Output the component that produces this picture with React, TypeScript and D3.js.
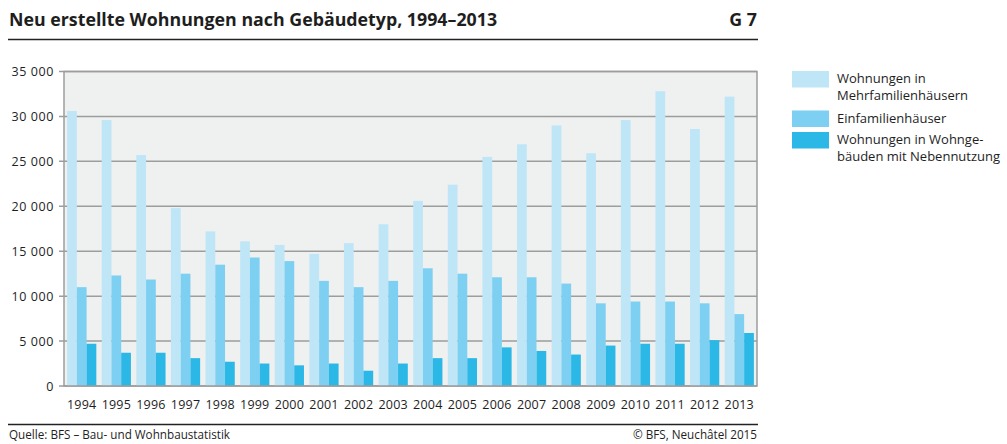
import React from "react";
import * as d3 from "d3";

const years = ["1994","1995","1996","1997","1998","1999","2000","2001","2002","2003","2004","2005","2006","2007","2008","2009","2010","2011","2012","2013"];
const mehrfamilien = [30600,29600,25700,19800,17200,16100,15700,14700,15900,18000,20600,22400,25500,26900,29000,25900,29600,32800,28600,32200];
const einfamilien = [11000,12300,11850,12500,13500,14300,13900,11700,11000,11700,13100,12500,12100,12100,11400,9200,9400,9400,9200,8000];
const nebennutzung = [4700,3700,3700,3100,2700,2500,2300,2500,1700,2500,3100,3100,4300,3900,3500,4500,4700,4700,5100,5900];
const seriesNames = ["Wohnungen in Mehrfamilienhäusern","Einfamilienhäuser","Wohnungen in Wohngebäuden mit Nebennutzung"];
const yTicks = [0,5000,10000,15000,20000,25000,30000,35000];
const colors = ["#bfe6f7","#7dd0f1","#2bb8e6"];

const W = 1007, H = 444;
const plot = { left: 64, right: 757, top: 71.5, bottom: 386 };
const FONT = "'Open Sans', Lato, sans-serif";
const TEXT = "#1e1e1e";

export default function App() {
  const x = d3.scaleBand<string>().domain(years).range([plot.left, plot.right]).paddingInner(0.156).paddingOuter(0.09);
  const series = [mehrfamilien, einfamilien, nebennutzung];
  const xi = d3.scaleBand<number>().domain([0,1,2]).range([0, x.bandwidth()]);
  const y = d3.scaleLinear().domain([0, 35000]).range([plot.bottom, plot.top]);
  const fmt = d3.formatLocale({ decimal: ",", thousands: " ", grouping: [3], currency: ["", ""] }).format(",d");

  const legend = [
    { lines: ["Wohnungen in", "Mehrfamilienhäusern"], y0: 71, title: seriesNames[0] },
    { lines: ["Einfamilienhäuser"], y0: 110.5, title: seriesNames[1] },
    { lines: ["Wohnungen in Wohnge-", "bäuden mit Nebennutzung"], y0: 132, title: seriesNames[2] },
  ];

  return (
    <svg width={W} height={H} style={{ position: "absolute", left: 0, top: 0, background: "#fff" }} fontFamily={FONT}>
      <text x={9} y={26} fontSize={17.8} fontWeight={700} fill={TEXT}>Neu erstellte Wohnungen nach Gebäudetyp, 1994–2013</text>
      <text x={757} y={26} fontSize={17.8} fontWeight={700} fill={TEXT} textAnchor="end">G 7</text>
      <line x1={8} x2={758} y1={39.5} y2={39.5} stroke="#222" strokeWidth={1.5} />

      <rect x={plot.left} y={plot.top} width={plot.right - plot.left} height={plot.bottom - plot.top} fill="#eff0f0" />
      {yTicks.map(t => (
        <g key={t}>
          <line x1={plot.left - 5} x2={plot.right} y1={y(t)} y2={y(t)} stroke="#9d9d9d" strokeWidth={1.5} />
          <text x={54} y={y(t) + 4.5} fontSize={12.5} textAnchor="end" fill={TEXT} letterSpacing={0.6}>{fmt(t)}</text>
        </g>
      ))}
      {years.map((yr, i) => (
        <g key={yr}>
          {series.map((s, k) => (
            <rect key={k} x={(x(yr) as number) + (xi(k) as number)} y={y(s[i])} width={xi.bandwidth()} height={y(0) - y(s[i])} fill={colors[k]} />
          ))}
          <text x={(x(yr) as number) + x.bandwidth() / 2} y={409} fontSize={12.5} textAnchor="middle" fill={TEXT} letterSpacing={0.2}>{yr}</text>
        </g>
      ))}
      <rect x={plot.left} y={plot.top} width={plot.right - plot.left} height={plot.bottom - plot.top} fill="none" stroke="#9d9d9d" strokeWidth={1.5} />

      <line x1={8} x2={758} y1={424.5} y2={424.5} stroke="#222" strokeWidth={1.5} />
      <text x={9} y={438.5} fontSize={11.7} fill={TEXT}>Quelle: BFS – Bau- und Wohnbaustatistik</text>
      <text x={757} y={438.5} fontSize={11.7} fill={TEXT} textAnchor="end">© BFS, Neuchâtel 2015</text>

      {legend.map((l, k) => (
        <g key={k}>
          <title>{l.title}</title>
          <rect x={792} y={l.y0} width={37} height={16.5} fill={colors[k]} />
          {l.lines.map((ln, j) => (
            <text key={j} x={837} y={l.y0 + 12 + j * 17} fontSize={13} fill={TEXT}>{ln}</text>
          ))}
        </g>
      ))}
    </svg>
  );
}
